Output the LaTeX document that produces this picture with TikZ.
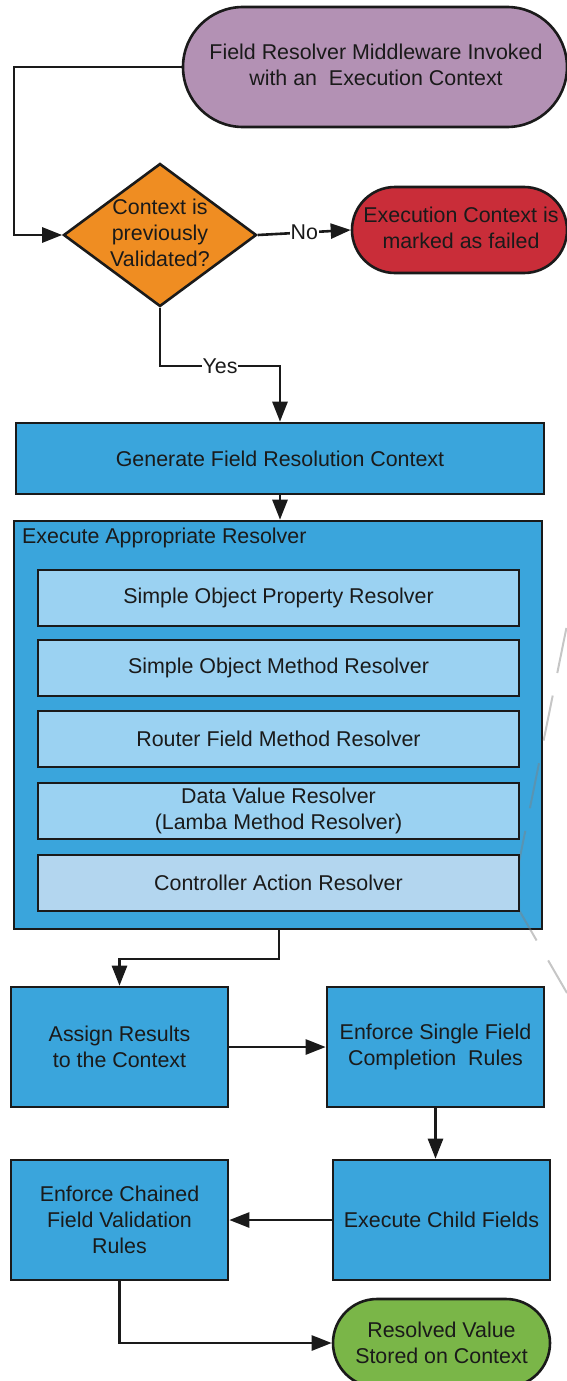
\documentclass[tikz,border=0pt]{standalone}
\usepackage{fontspec}
\setmainfont{Liberation Sans}
\usetikzlibrary{shapes.geometric,arrows.meta}

\definecolor{startpurple}{HTML}{B391B4}
\definecolor{decorange}{HTML}{EF8D22}
\definecolor{failred}{HTML}{C92D39}
\definecolor{procblue}{HTML}{3AA5DC}
\definecolor{subblue}{HTML}{9BD2F2}
\definecolor{subpale}{HTML}{B3D6EF}
\definecolor{donegreen}{HTML}{7AB648}
\definecolor{ink}{HTML}{1A1A1A}

\tikzset{
  txt/.style={font=\fontsize{21.4}{26}\selectfont, align=center, inner sep=0pt, text=ink},
  outline/.style={draw=ink, line width=2.6pt},
  terminal/.style={txt, outline, rectangle},
  procbox/.style={txt, outline, rectangle, fill=procblue},
  subbox/.style={txt, outline, rectangle, fill=subblue,
    minimum width=481pt, minimum height=56pt},
  decision/.style={outline, diamond, fill=decorange, inner sep=0pt},
  conn/.style={draw=ink, line width=2.6pt},
  arr/.style={conn, -{Triangle[length=20pt,width=15pt]}},
  lbl/.style={txt, fill=white, inner sep=1pt},
  ghost/.style={draw=gray, opacity=0.45, line width=2pt,
    dash pattern=on 46pt off 23pt, dash phase=66pt}
}

\begin{document}
\begin{tikzpicture}[x=1pt,y=-1pt]
  \useasboundingbox (0,0) rectangle (567,1381);

  % start and decision
  \node[terminal, fill=startpurple, minimum width=384pt, minimum height=120pt,
        rounded corners=60pt] (start) at (375,67) {};
  \node[txt] (starttxt) at (376,65) {Field Resolver Middleware Invoked\\with an \ Execution Context};

  \node[decision, minimum width=193pt, minimum height=143pt] (dec) at (160,235) {};
  \node[txt] (dectxt) at (160,233) {Context is\\previously\\Validated?};

  \node[terminal, fill=failred, minimum width=215pt, minimum height=86pt,
        rounded corners=43pt] (fail) at (459.5,230) {};
  \node[txt] (failtxt) at (461,228) {Execution Context is\\marked as failed};

  % context generation
  \node[procbox, minimum width=528pt, minimum height=71pt] (gen) at (280,458.5)
    {Generate Field Resolution Context};

  % resolver group
  \node[procbox, minimum width=528pt, minimum height=408pt] (exec) at (278,725) {};
  \node[txt, anchor=west] (exectitle) at (22,538) {Execute Appropriate Resolver};

  \draw[ghost] (567,625) -- (519,862) -- (519,910) -- (567,993);

  \node[subbox] (r1) at (278.5,598) {Simple Object Property Resolver};
  \node[subbox] (r2) at (278.5,668) {Simple Object Method Resolver};
  \node[subbox] (r3) at (278.5,739) {Router Field Method Resolver};
  \node[subbox] (r4) at (278.5,811) {Data Value Resolver\\(Lamba Method Resolver)};
  \node[subbox, fill=subpale] (r5) at (278.5,883) {Controller Action Resolver};

  % post-processing
  \node[procbox, minimum width=217pt, minimum height=120pt] (assign) at (119.5,1047)
    {Assign Results\\to the Context};
  \node[procbox, minimum width=217pt, minimum height=120pt] (single) at (435.5,1047)
    {Enforce Single Field\\Completion \ Rules};
  \node[procbox, minimum width=217pt, minimum height=120pt] (child) at (441.5,1220)
    {Execute Child Fields};
  \node[procbox, minimum width=217pt, minimum height=120pt] (chained) at (119.5,1220)
    {Enforce Chained\\Field Validation\\Rules};

  \node[terminal, fill=donegreen, minimum width=217pt, minimum height=88pt,
        rounded corners=44pt] (done) at (441.5,1343) {Resolved Value\\Stored on Context};

  % connectors
  \coordinate (loopA) at (14,67);
  \draw[arr] (start.west) -- (loopA) |- (dec.west);
  \draw[arr] (dec.east) -- node[lbl] {No} (fail.west);

  \coordinate (yesA) at (160,366);
  \coordinate (yesB) at (280,366);
  \draw[arr] (dec.south) -- (yesA) -- node[lbl] {Yes} (yesB) -- (gen.north);

  \draw[arr] (gen.south) -- (gen.south |- exec.north);

  \coordinate (dropA) at (279,959);
  \draw[arr] (exec.south -| dropA) -- (dropA) -| (assign.north);
  \draw[arr] (assign.east) -- (single.west);
  \draw[arr] (single.south) -- (single.south |- child.north);
  \draw[arr] (child.west) -- (chained.east);
  \draw[arr] (chained.south) |- (done.west);
\end{tikzpicture}
\end{document}
